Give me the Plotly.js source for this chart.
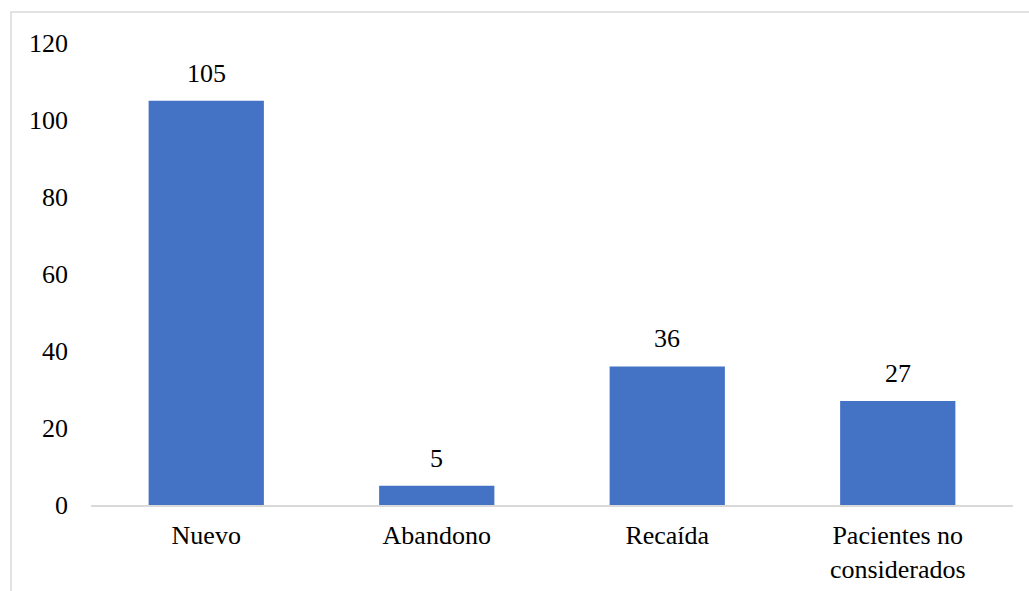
<!DOCTYPE html>
<html>
<head>
<meta charset="utf-8">
<script src="https://cdn.plot.ly/plotly-3.0.1.min.js"></script>
<style>
  html, body { margin: 0; padding: 0; background: #fff; font-family: 'Liberation Serif', 'Times New Roman', serif; }
  #chart { width: 1029px; height: 591px; }
  /* all chart text in the serif face */
  #chart svg text { font-family: 'Liberation Serif', 'Times New Roman', serif !important; }
</style>
</head>
<body>
<div id="chart"></div>
<script>
// Patient categories and their counts
const categories = ["Nuevo", "Abandono", "Recaída", "Pacientes no<br>considerados"];
const counts = [105, 5, 36, 27];
const yTicks = [0, 20, 40, 60, 80, 100, 120];

const serif = "Liberation Serif";

const trace = {
  type: "bar",
  x: categories,
  y: counts,
  marker: { color: "#4472C4" },
  width: 0.5,
  hoverinfo: "none"
};

// value labels above each bar
const valueLabels = categories.map((c, i) => ({
  x: c,
  y: counts[i],
  xref: "x",
  yref: "y",
  text: String(counts[i]),
  showarrow: false,
  yanchor: "bottom",
  yshift: 11,
  font: { family: serif, size: 26, color: "#000" }
}));

const layout = {
  width: 1029,
  height: 591,
  margin: { l: 91, r: 16, t: 43, b: 86 },
  paper_bgcolor: "#fff",
  plot_bgcolor: "#fff",
  showlegend: false,
  font: { family: serif, size: 26, color: "#000" },
  xaxis: {
    type: "category",
    showgrid: false,
    showline: true,
    linecolor: "#D9D9D9",
    linewidth: 1.5,
    ticks: "",
    ticklabelstandoff: 6,
    tickfont: { family: serif, size: 26, color: "#000" },
    zeroline: false,
    fixedrange: true
  },
  yaxis: {
    range: [0, 120],
    tickvals: yTicks,
    ticktext: yTicks.map(String),
    showgrid: false,
    showline: false,
    zeroline: false,
    ticks: "",
    ticklabelstandoff: 22,
    tickfont: { family: serif, size: 26, color: "#000" },
    fixedrange: true
  },
  annotations: valueLabels,
  shapes: [{
    type: "rect",
    xref: "paper",
    yref: "paper",
    // outer chart-area frame, in pixels converted to paper fractions
    x0: (11 - 91) / 922,
    x1: (1040 - 91) / 922,
    y0: (505 - 600) / 462,
    y1: (505 - 12) / 462,
    line: { color: "#D9D9D9", width: 1.5 },
    fillcolor: "rgba(0,0,0,0)",
    layer: "below"
  }]
};

Plotly.newPlot("chart", [trace], layout, { displayModeBar: false, staticPlot: true });
</script>
</body>
</html>
